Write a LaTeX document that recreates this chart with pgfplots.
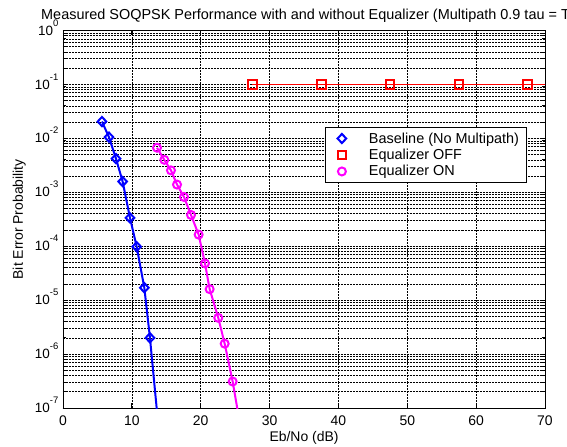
\documentclass[border=0pt]{standalone}
\usepackage{pgfplots}
\pgfplotsset{compat=1.18}
\usepackage{fontspec}
\setmainfont{Liberation Sans}
\definecolor{mblue}{RGB}{0,0,255}
\definecolor{mred}{RGB}{255,0,0}
\definecolor{mmag}{RGB}{255,0,255}
\newcommand{\tl}[1]{10\smash{\raisebox{9bp}{\fontsize{9.5}{9.5}\selectfont #1}}}
\begin{document}
\begin{tikzpicture}
\begin{axis}[
  at={(0,0)}, anchor=south west,
  scale only axis, width=482bp, height=377.5bp,
  ymode=log, xmin=0, xmax=70, ymin=1e-7, ymax=1,
  /pgf/number format/assume math mode=true,
  xtick={0,10,...,70},
  ytick={1e-7,1e-6,1e-5,1e-4,1e-3,1e-2,1e-1,1},
  yticklabels={\tl{-7},\tl{-6},\tl{-5},\tl{-4},\tl{-3},\tl{-2},\tl{-1},\tl{0}},
  grid=both,
  major grid style={black, line width=0.6pt, dash pattern=on 0.6pt off 0.9pt},
  minor grid style={black, line width=0.6pt, dash pattern=on 0.6pt off 0.9pt},
  tick align=inside, xtick pos=both, ytick pos=both,
  major tick length=5bp, minor tick length=3bp,
  tick style={black, line width=0.8pt},
  axis line style={black, line width=0.9pt},
  xticklabel style={font=\fontsize{14}{15}\selectfont, inner sep=0pt, yshift=-8bp},
  yticklabel style={font=\fontsize{13.5}{15}\selectfont, inner sep=0pt, xshift=-4.5bp},
  xlabel={Eb/No (dB)},
  ylabel={Bit Error Probability},
  label style={font=\fontsize{14}{15}\selectfont},
  xlabel style={at={(axis description cs:0.5,0)}, anchor=base, yshift=-33bp},
  ylabel style={at={(axis description cs:0,0.5)}, anchor=base, yshift=40bp},
  legend style={at={(rel axis cs:0.5436,0.744)}, anchor=north west,
    draw=black, line width=0.8pt, fill=white,
    font=\fontsize{14.5}{17}\selectfont,
    inner xsep=6bp, inner ysep=3.5bp, row sep=1.5bp,
    nodes={inner sep=1.5bp}},
  legend cell align=left,
  legend image code/.code={\draw[#1] plot coordinates {(9.5bp,0bp)}; \path (0bp,0bp) (34bp,0bp);},
]
% Baseline
\addplot[mblue, line width=2bp, forget plot] coordinates {
(5.66,2.05e-2) (6.68,1.05e-2) (7.70,4.2e-3) (8.66,1.58e-3) (9.73,3.35e-4)
(10.70,9.8e-5) (11.81,1.7e-5) (12.63,2.0e-6) (14.35,1e-8)};
\addplot[mblue, only marks, mark=diamond, mark size=4.6bp, line width=2bp, mark options={xscale=1.25}] coordinates {
(5.66,2.05e-2) (6.68,1.05e-2) (7.70,4.2e-3) (8.66,1.58e-3) (9.73,3.35e-4)
(10.70,9.8e-5) (11.81,1.7e-5) (12.63,2.0e-6)};
\addlegendentry{Baseline (No Multipath)}
% Equalizer OFF
\addplot[mred, line width=1.8bp, forget plot] coordinates {
(27.5,0.1) (37.5,0.1) (47.5,0.1) (57.5,0.1) (67.5,0.1) (77.5,0.1)};
\addplot[mred, only marks, mark=square, mark size=4.3bp, line width=2bp] coordinates {
(27.5,0.1) (37.5,0.1) (47.5,0.1) (57.5,0.1) (67.5,0.1)};
\addlegendentry{Equalizer OFF}
% Equalizer ON
\addplot[mmag, line width=2bp, forget plot] coordinates {
(13.65,6.7e-3) (14.72,4.0e-3) (15.68,2.55e-3) (16.56,1.39e-3) (17.57,8.2e-4)
(18.59,3.8e-4) (19.7,1.64e-4) (20.62,4.8e-5) (21.3,1.6e-5) (22.55,4.7e-6)
(23.48,1.56e-6) (24.64,3.1e-7) (26.65,1e-8)};
\addplot[mmag, only marks, mark=o, mark size=4bp, line width=2bp] coordinates {
(13.65,6.7e-3) (14.72,4.0e-3) (15.68,2.55e-3) (16.56,1.39e-3) (17.57,8.2e-4)
(18.59,3.8e-4) (19.7,1.64e-4) (20.62,4.8e-5) (21.3,1.6e-5) (22.55,4.7e-6)
(23.48,1.56e-6) (24.64,3.1e-7)};
\addlegendentry{Equalizer ON}
\end{axis}
\node[anchor=base west, inner sep=0pt, font=\fontsize{14.5}{16}\selectfont] at (-22bp,388.7bp)
  {Measured SOQPSK Performance with and without Equalizer (Multipath 0.9 tau = T)};
\pgfresetboundingbox
\path[use as bounding box] (-63bp,-39bp) rectangle (504bp,408bp);
\end{tikzpicture}
\end{document}
